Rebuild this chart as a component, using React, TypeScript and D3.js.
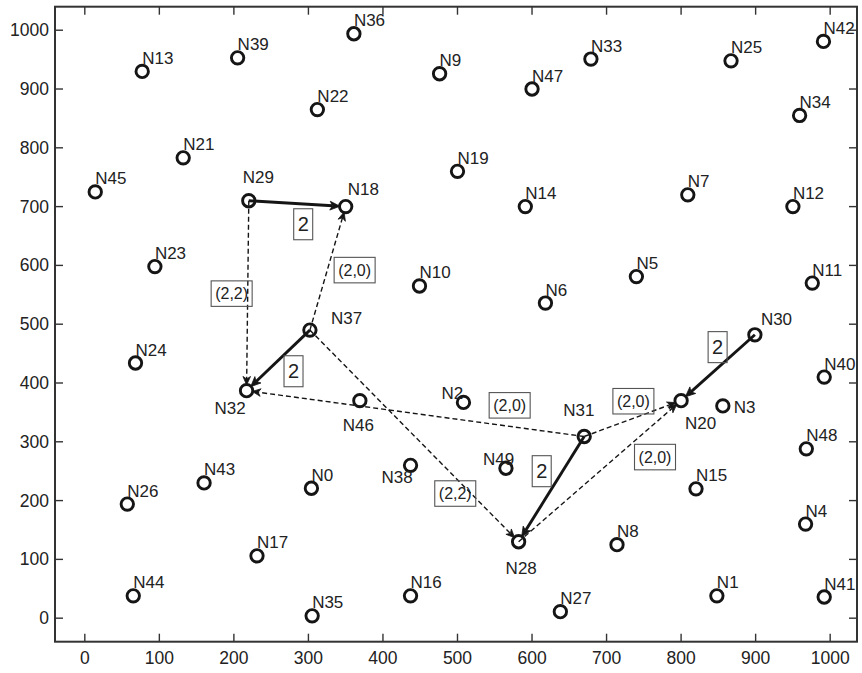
import React from "react";
import * as d3 from "d3";

// ---------- data ----------
const nodeNames = Array.from({ length: 50 }, (_, i) => `N${i}`);
const nodeX = [
  304, 848, 508, 856, 967, 740, 618, 809, 714, 476,
  449, 976, 950, 77, 591, 820, 437, 231, 350, 500,
  800, 132, 312, 94, 68, 867, 57, 638, 582, 220,
  899, 670, 217, 679, 959, 305, 361, 302, 437, 205,
  992, 992, 991, 160, 65, 14, 369, 600, 968, 565,
];
const nodeY = [
  221, 38, 367, 361, 160, 581, 536, 720, 125, 926,
  565, 570, 700, 930, 700, 220, 38, 106, 700, 760,
  370, 783, 865, 598, 434, 948, 194, 11, 130, 710,
  482, 309, 387, 951, 855, 4, 994, 490, 260, 953,
  410, 36, 981, 230, 38, 725, 370, 900, 288, 255,
];

const edgeFrom = [29, 37, 31, 30, 29, 37, 31, 37, 31, 28];
const edgeTo = [18, 32, 28, 20, 32, 18, 32, 28, 20, 20];
const edgeLabel = ["2", "2", "2", "2", "(2,2)", "(2,0)", "(2,0)", "(2,2)", "(2,0)", "(2,0)"];
const edgeSolid = [true, true, true, true, false, false, false, false, false, false];
// label anchor positions in data units
const edgeLabelX = [293, 280, 613, 849, 197, 362, 570, 497, 736, 765];
const edgeLabelY = [670, 420, 250, 461, 552, 592, 362, 212, 369, 274];

const xTicks = [0, 100, 200, 300, 400, 500, 600, 700, 800, 900, 1000];
const yTicks = [0, 100, 200, 300, 400, 500, 600, 700, 800, 900, 1000];

// ---------- layout ----------
const W = 862;
const H = 673;
const left = 55, right = 857, top = 6.7, bottom = 641.7;
const FONT = "'Liberation Sans', Arial, Helvetica, sans-serif";
const AX = "#333";
const INK = "#151515";

// label offsets (px) relative to node centre: [dx, dy(baseline)]
const defaultOffset: [number, number] = [0, -7.5];
const labelOffsets: Record<string, [number, number]> = {
  N29: [-6, -18],
  N18: [2, -12],
  N37: [21, -6],
  N32: [-32, 23],
  N46: [-17, 30],
  N38: [-29, 18],
  N2: [-22, -3],
  N31: [-21, -21],
  N20: [4, 28],
  N3: [11, 7],
  N28: [-13, 32],
  N49: [-23, -3],
  N30: [6, -10],
};

export default function App() {
  const x = d3.scaleLinear().domain([-40, 1036]).range([left, right]);
  const y = d3.scaleLinear().domain([-40, 1040]).range([bottom, top]);
  const R = 6.2;
  const tickLen = 8;

  const edges = edgeFrom.map((f, i) => {
    const t = edgeTo[i];
    const x1 = x(nodeX[f]), y1 = y(nodeY[f]);
    const x2 = x(nodeX[t]), y2 = y(nodeY[t]);
    const dx = x2 - x1, dy = y2 - y1;
    const len = Math.hypot(dx, dy);
    const ux = dx / len, uy = dy / len;
    const solid = edgeSolid[i];
    const tipDist = R - 0.5;
    const headLen = solid ? 10 : 8.5;
    const headHalf = solid ? 4.4 : 3.8;
    const tx = x2 - ux * tipDist, ty = y2 - uy * tipDist;
    const bx = tx - ux * headLen, by = ty - uy * headLen;
    const px = -uy, py = ux;
    const head = [
      [tx, ty],
      [bx + px * headHalf, by + py * headHalf],
      [bx + ux * 2.5, by + uy * 2.5],
      [bx - px * headHalf, by - py * headHalf],
    ];
    return { i, x1, y1, bx: bx + ux * 2.5, by: by + uy * 2.5, head, solid };
  });

  return (
    <svg
      width={W}
      height={H}
      style={{ position: "absolute", left: 0, top: 0, background: "#fff" }}
      fontFamily={FONT}
    >
      <rect x={0} y={0} width={W} height={H} fill="#fff" />
      {/* ticks */}
      <g stroke={AX} strokeWidth={1.4}>
        {xTicks.map((t) => (
          <g key={"xt" + t}>
            <line x1={x(t)} x2={x(t)} y1={bottom} y2={bottom - tickLen} />
            <line x1={x(t)} x2={x(t)} y1={top} y2={top + tickLen} />
          </g>
        ))}
        {yTicks.map((t) => (
          <g key={"yt" + t}>
            <line x1={left} x2={left + tickLen} y1={y(t)} y2={y(t)} />
            <line x1={right} x2={right - tickLen} y1={y(t)} y2={y(t)} />
          </g>
        ))}
      </g>
      {/* tick labels */}
      <g fill="#222" fontSize={17.5}>
        {xTicks.map((t) => (
          <text key={"xl" + t} x={x(t)} y={bottom + 22.5} textAnchor="middle">
            {t}
          </text>
        ))}
        {yTicks.map((t) => (
          <text key={"yl" + t} x={left - 6} y={y(t)} textAnchor="end" dominantBaseline="central">
            {t}
          </text>
        ))}
      </g>
      {/* edges */}
      <g>
        {edges.map((e) => (
          <g key={"e" + e.i}>
            <line
              x1={e.x1}
              y1={e.y1}
              x2={e.bx}
              y2={e.by}
              stroke={INK}
              strokeWidth={e.solid ? 2.9 : 1.4}
              strokeDasharray={e.solid ? undefined : "5,3"}
            />
            <polygon points={e.head.map((p) => p.join(",")).join(" ")} fill={INK} stroke={INK} strokeWidth={0.8} />
          </g>
        ))}
      </g>
      {/* edge labels */}
      <g>
        {edgeLabel.map((lab, i) => {
          const big = lab.length === 1;
          const w = big ? 19 : 41;
          const h = big ? 31 : 25.5;
          const cx = x(edgeLabelX[i]);
          const cy = y(edgeLabelY[i]);
          return (
            <g key={"l" + i}>
              <rect x={cx - w / 2} y={cy - h / 2} width={w} height={h} fill="none" stroke="#555" strokeWidth={1.1} />
              <text
                x={cx}
                y={cy + (big ? 7 : 5.8)}
                textAnchor="middle"
                fontSize={big ? 20 : 16}
                fill="#222"
              >
                {lab}
              </text>
            </g>
          );
        })}
      </g>
      {/* nodes */}
      <g>
        {nodeNames.map((n, i) => (
          <circle key={n} cx={x(nodeX[i])} cy={y(nodeY[i])} r={R} fill="none" stroke={INK} strokeWidth={2.9} />
        ))}
      </g>
      <g fill="#222" fontSize={17}>
        {nodeNames.map((n, i) => {
          const off = labelOffsets[n] || defaultOffset;
          return (
            <text key={"t" + n} x={x(nodeX[i]) + off[0]} y={y(nodeY[i]) + off[1]}>
              {n}
            </text>
          );
        })}
      </g>
      {/* axes frame */}
      <rect x={left} y={top} width={right - left} height={bottom - top} fill="none" stroke={AX} strokeWidth={2} />
    </svg>
  );
}
